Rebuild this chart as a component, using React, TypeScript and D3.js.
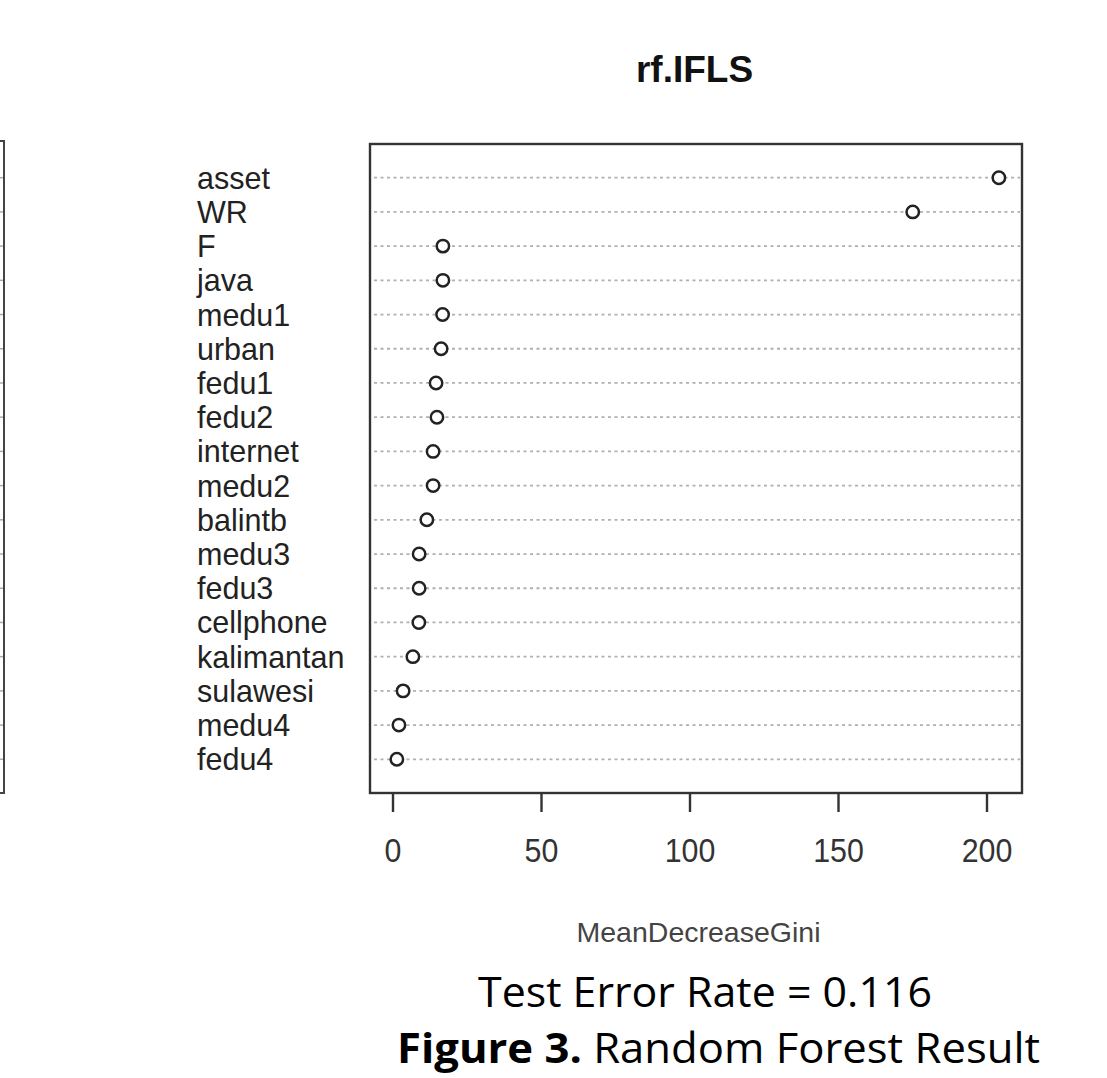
import React from "react";
import * as d3 from "d3";

const variables = ["asset","WR","F","java","medu1","urban","fedu1","fedu2","internet","medu2","balintb","medu3","fedu3","cellphone","kalimantan","sulawesi","medu4","fedu4"];
const giniValues = [204, 175, 16.8, 16.8, 16.7, 16.2, 14.5, 14.8, 13.5, 13.5, 11.4, 8.8, 8.8, 8.7, 6.7, 3.4, 2.0, 1.3];
const xTicks = [0, 50, 100, 150, 200];
const title = "rf.IFLS";
const xLabel = "MeanDecreaseGini";
const captionLine1 = "Test Error Rate = 0.116";
const captionBold = "Figure 3.";
const captionRest = " Random Forest Result";

export default function App() {
  const W = 1107, H = 1078;
  const frame = { left: 370, right: 1022, top: 144, bottom: 793 };
  const x = d3.scaleLinear().domain([0, 200]).range([393, 987]);
  const y = d3.scalePoint<string>().domain(variables).range([177.7, 759.3]);
  const sans = "'Liberation Sans', Arial, sans-serif";
  const capFont = "'Open Sans', 'Noto Sans', sans-serif";

  return (
    <svg width={W} height={H} style={{ position: "absolute", left: 0, top: 0, background: "#fff" }}>
      <rect x={0} y={0} width={W} height={H} fill="#fff" />
      {/* partial frame of the neighbouring chart */}
      <path d={`M0,141 H4 V793 H0`} fill="none" stroke="#444" strokeWidth={2} />
      {variables.map((v) => (
        <line key={"l" + v} x1={0} x2={3} y1={y(v)} y2={y(v)} stroke="#aaa" strokeWidth={1.5} />
      ))}

      {/* title */}
      <text x={694.5} y={82} textAnchor="middle" fontFamily={sans} fontWeight="bold" fontSize={37} fill="#111">{title}</text>

      {/* dotted guide lines */}
      {variables.map((v) => (
        <line key={"g" + v} x1={frame.left + 4} x2={frame.right - 2} y1={y(v)} y2={y(v)}
          stroke="#b0b0b0" strokeWidth={1.8} strokeDasharray="3,3.5" />
      ))}

      {/* frame */}
      <rect x={frame.left} y={frame.top} width={frame.right - frame.left} height={frame.bottom - frame.top}
        fill="none" stroke="#333" strokeWidth={2.4} />

      {/* labels */}
      {variables.map((v) => (
        <text key={"t" + v} transform={`translate(197,${(y(v) as number) + 11}) scale(1,1.05)`}
          fontFamily={sans} fontSize={30.5} fill="#222">{v}</text>
      ))}

      {/* points */}
      {variables.map((v, i) => (
        <circle key={"c" + v} cx={x(giniValues[i])} cy={y(v)} r={6.2} fill="#fff" stroke="#222" strokeWidth={2.5} />
      ))}

      {/* x axis */}
      {xTicks.map((t) => (
        <g key={"x" + t}>
          <line x1={x(t)} x2={x(t)} y1={frame.bottom} y2={frame.bottom + 19} stroke="#333" strokeWidth={2.4} />
          <text transform={`translate(${x(t)},862) scale(0.98,1.08)`} textAnchor="middle" fontFamily={sans} fontSize={31} fill="#333">{t}</text>
        </g>
      ))}
      <text x={698.5} y={942} textAnchor="middle" fontFamily={sans} fontSize={28.5} fill="#444">{xLabel}</text>

      {/* captions */}
      <text x={705} y={1007} textAnchor="middle" fontFamily={capFont} fontSize={42} fill="#000"
        textLength={454} lengthAdjust="spacingAndGlyphs">{captionLine1}</text>
      <text x={718.5} y={1063} textAnchor="middle" fontFamily={capFont} fontSize={42} fill="#000"
        textLength={643} lengthAdjust="spacingAndGlyphs">
        <tspan fontWeight="bold">{captionBold}</tspan>
        <tspan>{captionRest}</tspan>
      </text>
    </svg>
  );
}
